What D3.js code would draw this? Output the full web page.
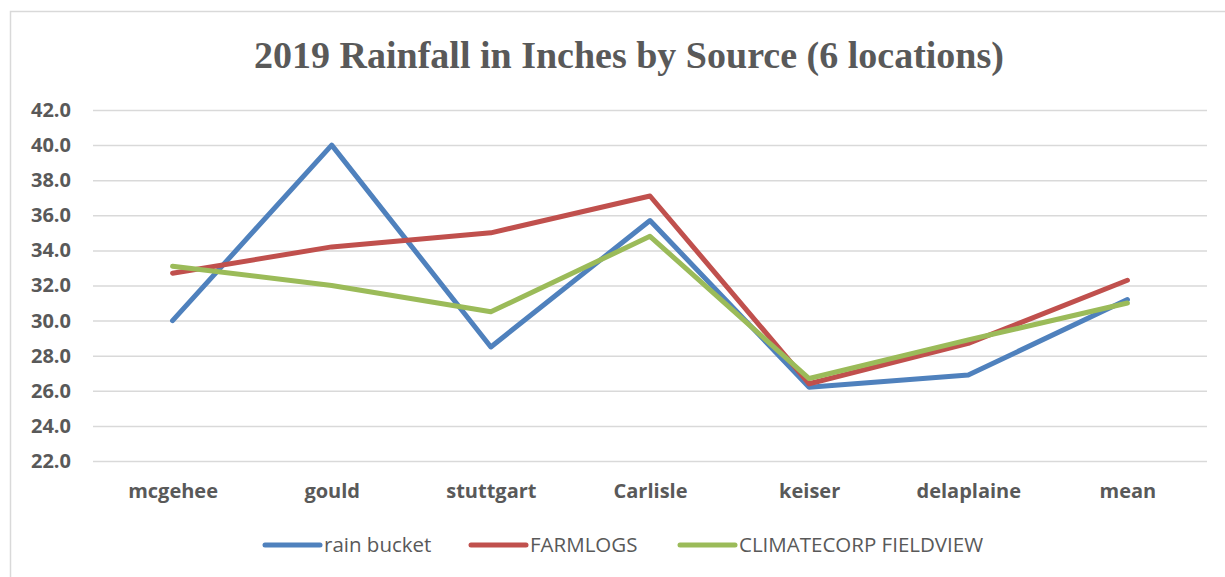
<!DOCTYPE html>
<html><head><meta charset="utf-8">
<script src="https://cdn.jsdelivr.net/npm/d3@7"></script>
<style>html,body{margin:0;padding:0;background:#fff;}</style>
</head><body>
<svg id="chart" width="1225" height="577"></svg>
<script>
const categories = ["mcgehee","gould","stuttgart","Carlisle","keiser","delaplaine","mean"];
const rainBucket = [30.0, 40.0, 28.5, 35.7, 26.2, 26.9, 31.2];
const farmlogs   = [32.7, 34.2, 35.0, 37.1, 26.4, 28.7, 32.3];
const climatecorp= [33.1, 32.0, 30.5, 34.8, 26.7, 28.9, 31.0];
const seriesNames = ["rain bucket","FARMLOGS","CLIMATECORP FIELDVIEW"];
const yTicks = [22,24,26,28,30,32,34,36,38,40,42];
const title = "2019 Rainfall in Inches by Source (6 locations)";

const series = [
  {name: seriesNames[0], values: rainBucket, color: "#4F81BD"},
  {name: seriesNames[1], values: farmlogs, color: "#C0504D"},
  {name: seriesNames[2], values: climatecorp, color: "#9BBB59"}
];

const svg = d3.select("#chart");
svg.append("rect").attr("x",10.5).attr("y",11.5).attr("width",1225).attr("height",577)
  .attr("fill","#fff").attr("stroke","#D9D9D9").attr("stroke-width",1.5);

const x = d3.scalePoint().domain(categories).range([93,1207]).padding(0.5);
const y = d3.scaleLinear().domain([22,42]).range([461,110]);

svg.append("text").attr("x",629).attr("y",68).attr("text-anchor","middle")
  .attr("font-family","'Liberation Serif','Times New Roman',serif").attr("font-weight","bold")
  .attr("font-size",38).attr("fill","#595959").text(title);

const yAxis = d3.axisLeft(y).tickValues(yTicks).tickSize(-(1207-93)).tickFormat(d3.format(".1f")).tickPadding(22);
const gy = svg.append("g").attr("transform","translate(93,0)").call(yAxis);
gy.select(".domain").remove();
gy.selectAll(".tick line").attr("stroke","#D9D9D9").attr("stroke-width",1.5);
gy.selectAll(".tick text").attr("font-family","'Open Sans', Lato, sans-serif").attr("font-weight","bold")
  .attr("font-size",20).attr("fill","#595959");

const xAxis = d3.axisBottom(x).tickSize(0).tickPadding(0);
const gx = svg.append("g").attr("transform","translate(0,485)").call(xAxis);
gx.select(".domain").remove();
gx.selectAll(".tick text").attr("font-family","'Open Sans', Lato, sans-serif").attr("font-weight","bold")
  .attr("font-size",20).attr("fill","#595959").attr("dy","0.35em").attr("y",6);

const line = d3.line().x((d,i)=>x(categories[i])).y(d=>y(d));
series.forEach(s=>{
  svg.append("path").datum(s.values).attr("d",line).attr("fill","none")
    .attr("stroke",s.color).attr("stroke-width",5).attr("stroke-linecap","round").attr("stroke-linejoin","round");
});

const legendX = [265, 471, 680];
series.forEach((s,i)=>{
  const g = svg.append("g").attr("transform",`translate(${legendX[i]},545)`);
  g.append("line").attr("x1",0).attr("x2",55).attr("y1",0).attr("y2",0)
    .attr("stroke",s.color).attr("stroke-width",5).attr("stroke-linecap","round");
  g.append("text").attr("x",59).attr("y",0).attr("dy","0.35em")
    .attr("font-family","'Open Sans', Lato, sans-serif").attr("font-size",20.5).attr("fill","#595959").text(s.name);
});
</script>
</body></html>
